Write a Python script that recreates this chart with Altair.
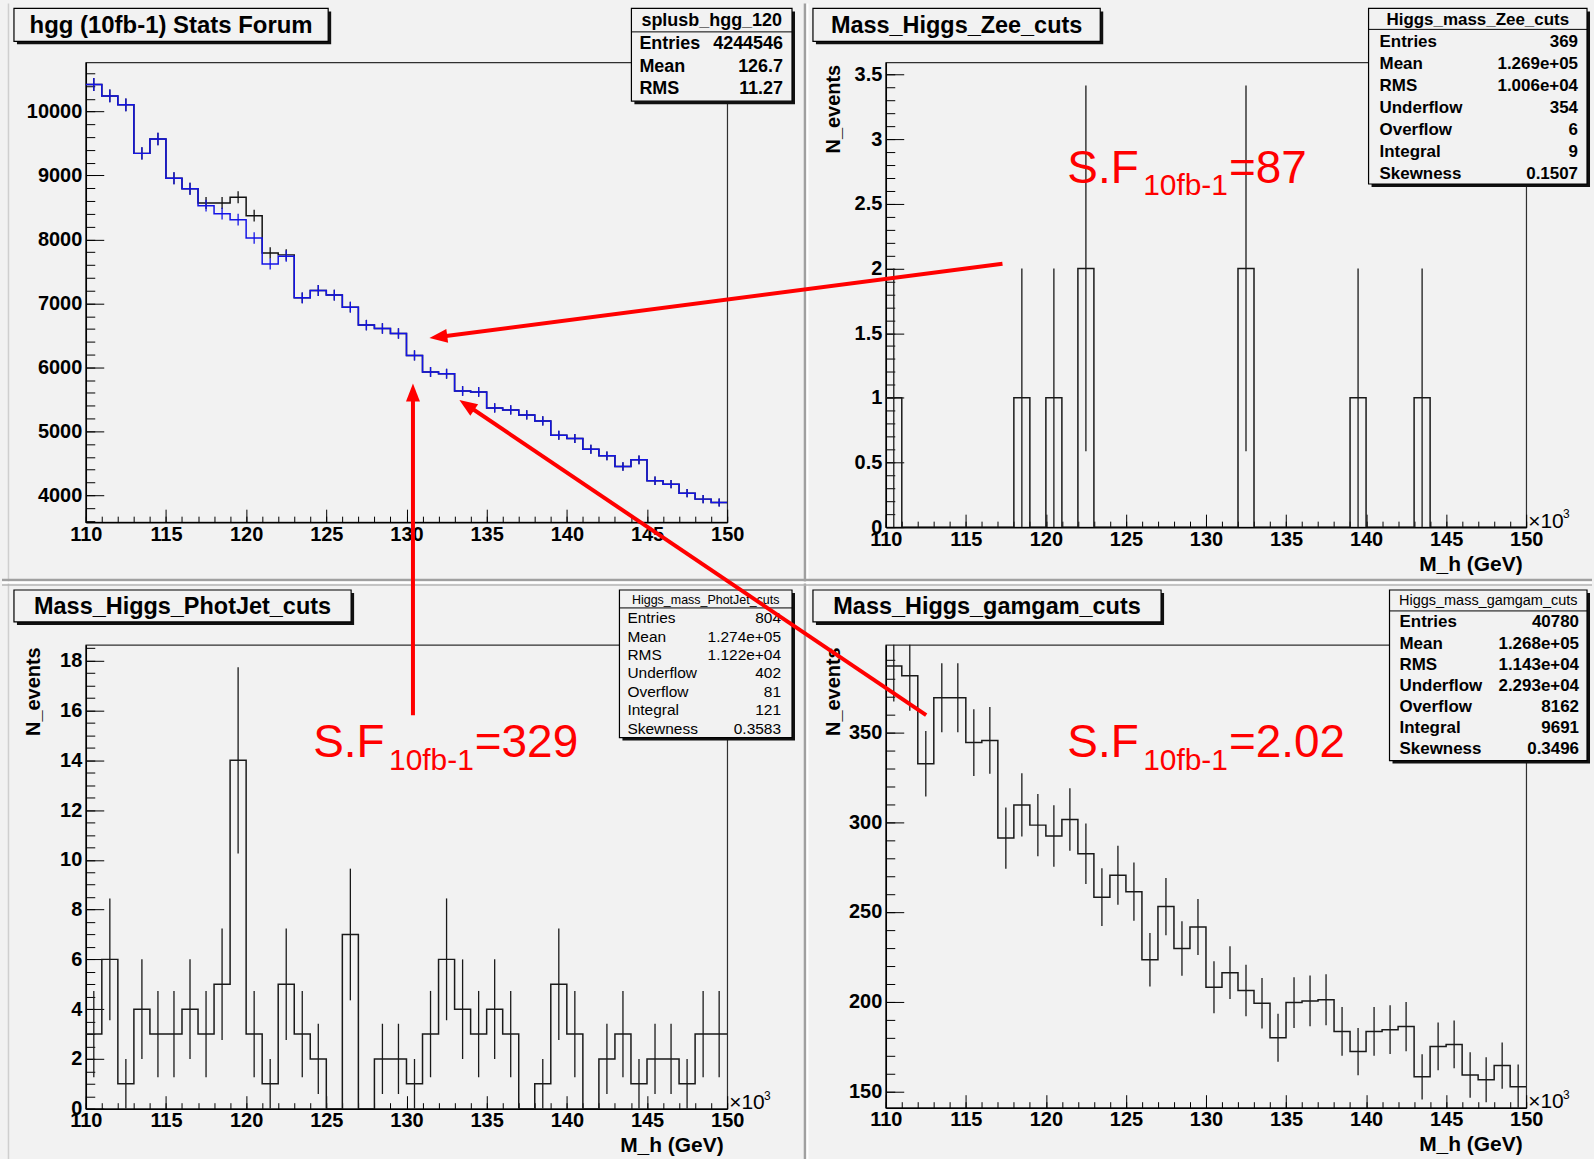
import math
import altair as alt
import pandas as pd

# ---------------- data ----------------
BIN_EDGES = list(range(110, 151))          # 40 bins of 1 GeV (x10^3 MeV)

HGG_SPLUSB_BLUE = [10423, 10245, 10105, 9346, 9569, 8956, 8794, 8528, 8403, 8310,
                   8024, 7618, 7738, 7088, 7202, 7130, 6942, 6661, 6609, 6530,
                   6187, 5928, 5901, 5631, 5616, 5366, 5335, 5257, 5163, 4939,
                   4887, 4720, 4617, 4450, 4554, 4227, 4174, 4033, 3940, 3888]
HGG_BLACK = [10423, 10245, 10105, 9346, 9569, 8956, 8794, 8570, 8570, 8659,
             8372, 7790, 7759, 7088, 7202, 7130, 6942, 6661, 6609, 6530,
             6187, 5928, 5901, 5631, 5616, 5366, 5335, 5257, 5163, 4939,
             4887, 4720, 4617, 4450, 4554, 4227, 4174, 4033, 3940, 3888]
ZEE = [1, 0, 0, 0, 0, 0, 0, 0, 1, 0,
       1, 0, 2, 0, 0, 0, 0, 0, 0, 0,
       0, 0, 2, 0, 0, 0, 0, 0, 0, 1,
       0, 0, 0, 1, 0, 0, 0, 0, 0, 0]
PHOTJET = [3, 6, 1, 4, 3, 3, 4, 3, 5, 14,
           3, 1, 5, 3, 2, 0, 7, 0, 2, 2,
           1, 3, 6, 4, 3, 4, 3, 0, 1, 5,
           3, 0, 2, 3, 1, 2, 2, 1, 3, 3]
GAMGAM = [386.8, 381.4, 332.4, 369.2, 369.2, 344.2, 345.4, 291.1, 309.5, 298.3,
          292.3, 301.4, 282.4, 258.2, 270.4, 261.3, 223.4, 253.0, 229.6, 241.6,
          208.1, 216.2, 206.3, 199.2, 180.0, 199.6, 200.5, 201.1, 183.5, 172.3,
          183.5, 184.5, 186.2, 158.3, 175.2, 176.3, 159.3, 156.6, 164.5, 152.7]

TITLES = ["hgg (10fb-1) Stats Forum", "Mass_Higgs_Zee_cuts",
          "Mass_Higgs_PhotJet_cuts", "Mass_Higgs_gamgam_cuts"]
STATS_NAMES = ["splusb_hgg_120", "Higgs_mass_Zee_cuts",
               "Higgs_mass_PhotJet_cuts", "Higgs_mass_gamgam_cuts"]
HGG_STATS = [("Entries", "4244546"), ("Mean", "126.7"), ("RMS", "11.27")]
ZEE_STATS = [("Entries", "369"), ("Mean", "1.269e+05"), ("RMS", "1.006e+04"),
             ("Underflow", "354"), ("Overflow", "6"), ("Integral", "9"),
             ("Skewness", "0.1507")]
PHOTJET_STATS = [("Entries", "804"), ("Mean", "1.274e+05"), ("RMS", "1.122e+04"),
                 ("Underflow", "402"), ("Overflow", "81"), ("Integral", "121"),
                 ("Skewness", "0.3583")]
GAMGAM_STATS = [("Entries", "40780"), ("Mean", "1.268e+05"), ("RMS", "1.143e+04"),
                ("Underflow", "2.293e+04"), ("Overflow", "8162"), ("Integral", "9691"),
                ("Skewness", "0.3496")]
SF_VALUES = ["=87", "=329", "=2.02"]
SF_SUB = "10fb-1"
X_TITLE = "M_h (GeV)"
Y_TITLE = "N_events"

X_MAJOR = [110, 115, 120, 125, 130, 135, 140, 145, 150]
X_MINOR = list(range(110, 151))

# ---------------- styling ----------------
FONT = "Liberation Sans"
BG = "#f2f2f2"
RED = "#ff0000"
HEAD = "M0,0L-0.7,1.8L0.7,1.8Z"
ONE = pd.DataFrame({"k": [0]})


class Panel:
    def __init__(self, ox, oy, w, h):
        self.ox, self.oy, self.w, self.h = ox, oy, w, h
        self.layers = []

    def add(self, ch):
        self.layers.append(ch)

    def rect(self, x1, y1, x2, y2, **kw):
        self.add(alt.Chart(ONE).mark_rect(**kw).encode(
            x=alt.value(x1 - self.ox), x2=alt.value(x2 - self.ox),
            y=alt.value(y1 - self.oy), y2=alt.value(y2 - self.oy)))

    def seg(self, x1, y1, x2, y2, **kw):
        self.add(alt.Chart(ONE).mark_rule(**kw).encode(
            x=alt.value(x1 - self.ox), x2=alt.value(x2 - self.ox),
            y=alt.value(y1 - self.oy), y2=alt.value(y2 - self.oy)))

    def text(self, s, x, y, size=18, weight="normal", align="left",
             baseline="middle", color="black"):
        self.add(alt.Chart(pd.DataFrame({"t": [s]})).mark_text(
            font=FONT, fontSize=size, fontWeight=weight, align=align,
            baseline=baseline, color=color).encode(
            x=alt.value(x - self.ox), y=alt.value(y - self.oy), text="t:N"))

    def box(self, x1, y1, x2, y2, shadow=3):
        self.rect(x1 + shadow, y1 + shadow, x2 + shadow, y2 + shadow, color="#111111")
        self.rect(x1, y1, x2, y2, fill=BG, stroke="black", strokeWidth=1.2)

    def title_box(self, s, x1, y1, x2, y2, size):
        self.box(x1, y1, x2, y2)
        self.text(s, (x1 + x2) / 2, (y1 + y2) / 2 + 1, size=size, weight="bold",
                  align="center")

    def stats(self, name, rows, box, sep, tsize, tweight, y0, dy, rsize, rweight, lx, rx):
        x1, y1, x2, y2 = box
        self.box(x1, y1, x2, y2)
        self.text(name, (x1 + x2) / 2, (y1 + sep) / 2 + 1, size=tsize, weight=tweight,
                  align="center")
        self.seg(x1, sep, x2, sep, color="black", strokeWidth=1)
        for i, (k, v) in enumerate(rows):
            y = y0 + i * dy
            self.text(k, lx, y, size=rsize, weight=rweight, align="left")
            self.text(v, rx, y, size=rsize, weight=rweight, align="right")

    def arrow(self, sx, sy, tx, ty):
        dx, dy = tx - sx, ty - sy
        length = math.hypot(dx, dy)
        ux, uy = dx / length, dy / length
        self.seg(sx, sy, tx - ux * 9, ty - uy * 9, color=RED, strokeWidth=4)
        ang = (math.degrees(math.atan2(dy, dx)) + 90) % 360
        self.add(alt.Chart(ONE).mark_point(
            shape=HEAD, filled=True, size=400, angle=ang, color=RED, opacity=1,
            strokeWidth=0).encode(x=alt.value(tx - self.ox), y=alt.value(ty - self.oy)))

    def sf(self, value, x, y):
        self.text("S.F", x, y, size=46, align="left", baseline="alphabetic", color=RED)
        self.text(SF_SUB, x + 76, y + 13, size=30, align="left", baseline="alphabetic",
                  color=RED)
        self.text(value, x + 162, y, size=46, align="left", baseline="alphabetic",
                  color=RED)

    def x10(self):
        W, H = self.w, self.h
        self.text("\u00d710", self.ox + W + 2, self.oy + H + 0.5, size=21,
                  align="left", baseline="alphabetic")
        self.text("3", self.ox + W + 37, self.oy + H - 9, size=12,
                  align="left", baseline="alphabetic")

    def chart(self):
        return alt.layer(*self.layers).resolve_axis(
            x="independent", y="independent").properties(width=self.w, height=self.h)


def xscale():
    return alt.Scale(domain=[110, 150], nice=False, zero=False)


def yscale(dom):
    return alt.Scale(domain=dom, nice=False, zero=False)


def label_axes(panel, ymajor, yfmt, titles):
    common = dict(labelFlush=False, labelOverlap=False, labelBound=False,
                  ticks=False, domain=True, domainColor="black", domainWidth=1.5,
                  grid=False, labelFont=FONT, labelFontSize=20, labelFontWeight="bold",
                  labelColor="black", zindex=0)
    xk = dict(common, orient="bottom", values=X_MAJOR, format="d", labelPadding=2)
    yk = dict(common, orient="left", values=ymajor, format=yfmt, labelPadding=4)
    if titles:
        xk.update(title=X_TITLE, titleFont=FONT, titleFontSize=21, titleFontWeight="bold",
                  titleColor="black", titleAlign="right", titleBaseline="middle",
                  titleX=panel.w - 4, titleY=37)
        yk.update(title=Y_TITLE, titleFont=FONT, titleFontSize=20, titleFontWeight="bold",
                  titleColor="black", titleAngle=270, titleAlign="right",
                  titleBaseline="middle", titleX=-52, titleY=2)
    else:
        xk["title"] = None
        yk["title"] = None
    return alt.Axis(**xk), alt.Axis(**yk)


def tick_axes(panel, xvals, yvals, xlen, ylen):
    common = dict(labels=False, ticks=True, tickColor="black", tickWidth=1,
                  domain=False, grid=False, title=None, zindex=0)
    xa = alt.Axis(orient="top", offset=-panel.h, values=xvals, tickSize=xlen, **common)
    ya = alt.Axis(orient="right", offset=-panel.w, values=yvals, tickSize=ylen, **common)
    return xa, ya


def step_layer(values, color, ydom, xaxis=None, yaxis=None, width=1.5, opacity=1):
    df = pd.DataFrame({"x": BIN_EDGES, "n": values + values[-1:]})
    return alt.Chart(df).mark_line(interpolate="step-after", color=color,
                                   strokeWidth=width, clip=True, opacity=opacity).encode(
        x=alt.X("x:Q", scale=xscale(), axis=xaxis),
        y=alt.Y("n:Q", scale=yscale(ydom), axis=yaxis))


def err_layer(values, color, ydom, xaxis=None, yaxis=None, width=1.3):
    df = pd.DataFrame({"lo": BIN_EDGES[:-1], "n": values})
    return alt.Chart(df).transform_filter("datum.n > 0").transform_calculate(
        xc="datum.lo + 0.5", e1="datum.n - sqrt(datum.n)", e2="datum.n + sqrt(datum.n)"
    ).mark_rule(color=color, strokeWidth=width, clip=True).encode(
        x=alt.X("xc:Q", scale=xscale(), axis=xaxis),
        y=alt.Y("e1:Q", scale=yscale(ydom), axis=yaxis),
        y2="e2:Q")


def histo_panel(panel, series, ydom, ymajor, yminor, yfmt, titles):
    """series: list of (values, color); last one carries the axes."""
    lx, ly = label_axes(panel, ymajor, yfmt, titles)
    mx, my = tick_axes(panel, X_MAJOR, ymajor, 13, 18)
    nx, ny = tick_axes(panel, X_MINOR, yminor, 6, 9)
    for i, (vals, col) in enumerate(series):
        last = i == len(series) - 1
        if last:
            panel.add(step_layer(vals, col, ydom, lx, ly))
            panel.add(err_layer(vals, col, ydom, mx, my))
            panel.add(step_layer(vals, col, ydom, nx, ny, opacity=0))
        else:
            panel.add(step_layer(vals, col, ydom))
            panel.add(err_layer(vals, col, ydom))


# ---------------- panels ----------------
TL = Panel(84, 59, 643, 461)
TR = Panel(886, 59, 642, 466)
BL = Panel(84, 643, 643, 465)
BR = Panel(886, 643, 642, 464)

# canvas extent + pad dividers (drawn in the first panel)
TL.rect(0, 0, 1594, 1159, opacity=0)
TL.seg(6.5, 0, 6.5, 1159, color="#cfcfcf", strokeWidth=1.5)
TL.seg(805, 0, 805, 1159, color="#a0a0a0", strokeWidth=2.5)
TL.seg(807.5, 0, 807.5, 1159, color="#ffffff", strokeWidth=2)
TL.seg(0, 578, 1594, 578, color="#a0a0a0", strokeWidth=2.5)
TL.seg(0, 580.5, 1594, 580.5, color="#ffffff", strokeWidth=2)
TL.seg(0, 583, 1594, 583, color="#b4b4b4", strokeWidth=1.5)

# top-left: hgg
histo_panel(TL, [(HGG_BLACK, "#111111"), (HGG_SPLUSB_BLUE, "#1414e6")],
            [3580, 10770], list(range(4000, 10001, 1000)), list(range(3600, 10700, 200)),
            "d", titles=False)
TL.title_box(TITLES[0], 12, 5, 327, 38, 24)
TL.stats(STATS_NAMES[0], HGG_STATS, (631, 5, 792, 98), 28.5, 18, "bold",
         41, 22.5, 18, "bold", 639, 783)

# top-right: Zee
histo_panel(TR, [(ZEE, "#1a1a1a")], [0, 3.594], [0, 0.5, 1, 1.5, 2, 2.5, 3, 3.5],
            [round(i * 0.1, 1) for i in range(36)], "~g", titles=True)
TR.x10()
TR.title_box(TITLES[1], 813, 5, 1101, 38, 23.5)
TR.stats(STATS_NAMES[1], ZEE_STATS, (1370, 5, 1589, 181), 26, 17, "bold",
         39, 22, 17, "bold", 1381, 1580)
TR.sf(SF_VALUES[0], 1068, 179.5)

# bottom-left: PhotJet
histo_panel(BL, [(PHOTJET, "#1a1a1a")], [0, 18.64], list(range(0, 19, 2)),
            [i * 0.5 for i in range(38)], "d", titles=True)
BL.x10()
BL.title_box(TITLES[2], 12, 588, 350, 620, 23.5)
BL.stats(STATS_NAMES[2], PHOTJET_STATS, (619, 588, 792, 736), 606, 12.5, "normal",
         616.5, 18.4, 15.5, "normal", 627, 781)
BL.sf(SF_VALUES[1], 312, 755.5)

# bottom-right: gamgam
histo_panel(BR, [(GAMGAM, "#1a1a1a")], [141.1, 398.6], [150, 200, 250, 300, 350],
            list(range(150, 400, 10)), "d", titles=True)
BR.x10()
BR.title_box(TITLES[3], 813, 588, 1162, 620, 23.5)
BR.stats(STATS_NAMES[3], GAMGAM_STATS, (1391, 588, 1589, 759), 609, 14.5, "normal",
         620.5, 21.2, 17, "bold", 1401, 1581)
BR.sf(SF_VALUES[2], 1068, 755.5)

# red arrows (drawn last, on top of everything)
BR.arrow(1003, 261, 428.5, 335.5)
BR.arrow(412, 713.5, 412, 381)
BR.arrow(926.5, 713.5, 458.5, 397.5)

chart = alt.concat(TL.chart(), TR.chart(), BL.chart(), BR.chart(), columns=2,
                   spacing={"row": 118, "column": 159}, bounds="flush").properties(
    padding=0, background=BG).configure_view(stroke="#303030", strokeWidth=1.2)

chart.save("out.html", embed_options={"renderer": "svg", "actions": False})
